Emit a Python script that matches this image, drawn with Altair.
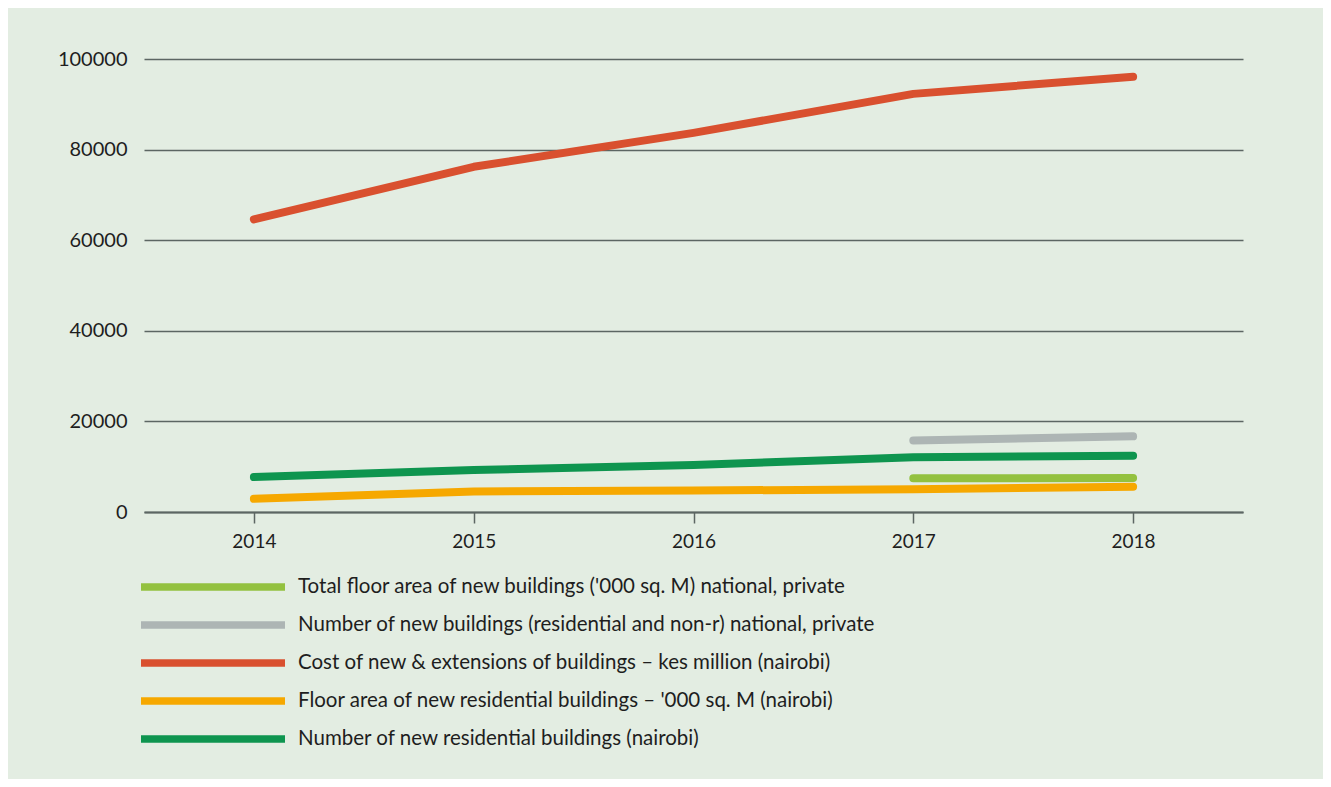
import altair as alt
import pandas as pd

years = ["2014", "2015", "2016", "2017", "2018"]

series_names = [
    "Total floor area of new buildings ('000 sq. M) national, private",
    "Number of new buildings (residential and non-r) national, private",
    "Cost of new & extensions of buildings \u2013 kes million (nairobi)",
    "Floor area of new residential buildings \u2013 '000 sq. M (nairobi)",
    "Number of new residential buildings (nairobi)",
]
series_colors = ["#93c13f", "#adb5b4", "#d9502f", "#f6a800", "#0e954f"]

total_floor_area_national = [None, None, None, 7450, 7500]
number_buildings_national = [None, None, None, 15800, 16700]
cost_new_extensions = [64600, 76200, 83700, 92300, 96100]
floor_area_residential = [2900, 4550, 4750, 5000, 5600]
number_residential = [7700, 9250, 10400, 12100, 12400]

all_values = [
    total_floor_area_national,
    number_buildings_national,
    cost_new_extensions,
    floor_area_residential,
    number_residential,
]

rows = []
for name, vals in zip(series_names, all_values):
    for yr, v in zip(years, vals):
        if v is not None:
            rows.append({"year": yr, "value": v, "series": name})
df = pd.DataFrame(rows)

FONT = "Lato"
GRID = "#5c6663"
TEXT = "#1e1e1e"

chart = (
    alt.Chart(df)
    .mark_line(strokeWidth=8, strokeCap="round", strokeJoin="round")
    .encode(
        x=alt.X(
            "year:O",
            sort=years,
            scale=alt.Scale(type="point", padding=0.5),
            axis=alt.Axis(
                title=None,
                labelAngle=0,
                labelFontSize=19,
                labelFont=FONT,
                labelColor=TEXT,
                labelPadding=9,
                tickSize=11,
                tickColor=GRID,
                tickWidth=1.5,
                domainColor=GRID,
                domainWidth=2,
                grid=False,
            ),
        ),
        y=alt.Y(
            "value:Q",
            scale=alt.Scale(domain=[0, 100000], nice=False),
            axis=alt.Axis(
                title=None,
                values=[0, 20000, 40000, 60000, 80000, 100000],
                format="d",
                labelFontSize=20,
                labelFont=FONT,
                labelColor=TEXT,
                labelPadding=17,
                ticks=False,
                domain=False,
                grid=True,
                gridColor=GRID,
                gridWidth=1.5,
            ),
        ),
        color=alt.Color(
            "series:N",
            scale=alt.Scale(domain=series_names, range=series_colors),
            sort=series_names,
            legend=alt.Legend(
                title=None,
                orient="none",
                legendX=-7,
                legendY=515,
                direction="vertical",
                symbolType="M-8,0H8",
                symbolSize=324,
                symbolStrokeWidth=7.5,
                symbolOffset=63,
                labelFont=FONT,
                labelFontSize=20.5,
                labelColor=TEXT,
                labelLimit=800,
                labelOffset=72,
                rowPadding=8,
            ),
        ),
        order=alt.Order("year:O"),
    )
    .properties(
        width=1099,
        height=453,
        padding={"left": 136, "top": 51, "right": 80, "bottom": 267},
        autosize=alt.AutoSizeParams(type="none"),
        background="#e3ede2",
    )
    .configure_view(stroke=None)
)

chart.save("out.html", embed_options={"renderer": "svg", "actions": False})
